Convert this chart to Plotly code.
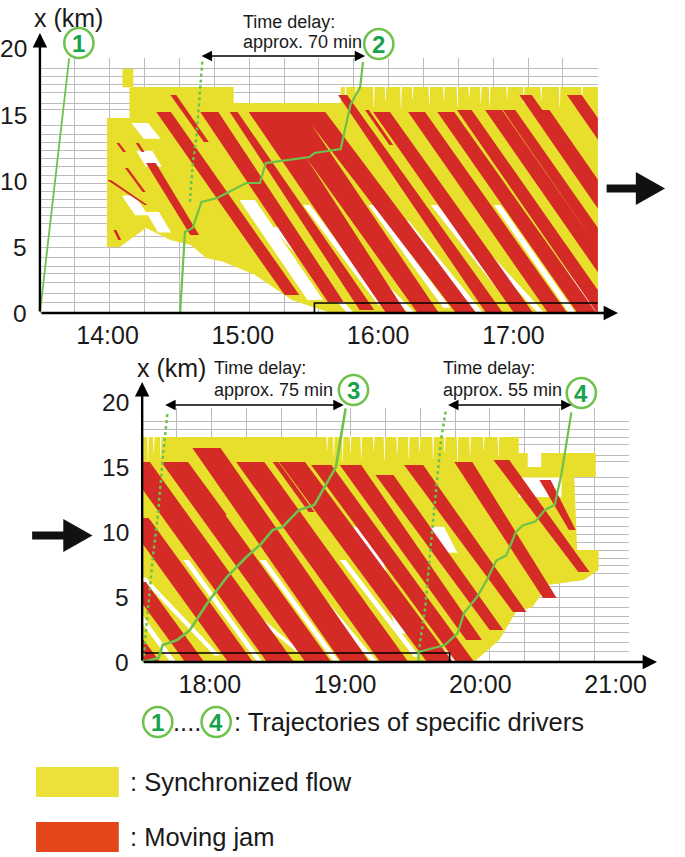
import plotly.graph_objects as go

W, H = 685, 857
YELLOW = "#E8DE2C"
RED = "#D52B27"
LEG_YELLOW = "#ECE13A"
LEG_RED = "#E3461A"
LGREEN = "#6CC24A"
DGREEN = "#17A34A"
GRID = "#BBBBBB"
TXT = "#1a1a1a"
FONT = "Liberation Sans, Arial, sans-serif"

# ---------------- axis data ----------------
top_hour_ticks = [14, 15, 16, 17]
top_hour_labels = ["14:00", "15:00", "16:00", "17:00"]
bot_hour_ticks = [18, 19, 20, 21]
bot_hour_labels = ["18:00", "19:00", "20:00", "21:00"]
km_ticks = [0, 5, 10, 15]
km_top_label = 20
detector_km = [0.8, 1.5, 2.3, 3.0, 3.5, 4.2, 5.0, 5.8, 6.8, 7.4, 8.0, 8.6, 9.2,
               9.8, 10.4, 11.1, 11.7, 12.3, 12.9, 13.5, 14.2, 15.4, 15.9, 16.7,
               17.3, 17.9, 18.5]

# ---------------- top panel (13:30 - 17:37) ----------------
top_sync_t = [14.162, 14.932, 14.932, 15.723, 15.723, 17.65, 17.65, 15.651, 15.363,
              15.09, 14.86, 14.73, 14.615, 14.464, 14.284, 14.09, 13.996, 13.996,
              14.162, 14.162, None,
              14.11, 14.19, 14.19, 14.11, 14.11, None]
top_sync_x = [17.12, 17.12, 15.91, 15.91, 17.12, 17.12, 0, 0, 0.98,
              2.88, 3.86, 4.17, 5.15, 5.53, 6.44, 5.0, 5.0, 14.77,
              14.77, 17.12, None,
              17.1, 17.1, 18.5, 18.5, 17.1, None]
# free-flow holes inside the early synchronized region (slanted patches)
top_hole_t = [14.176, 14.300, 14.392, 14.268, 14.176, None,
              14.212, 14.330, 14.400, 14.282, 14.212, None,
              14.104, 14.200, 14.300, 14.204, 14.104, None,
              14.284, 14.380, 14.470, 14.374, 14.284, None]
top_hole_x = [14.4, 14.4, 13.2, 13.2, 14.4, None,
              12.3, 12.3, 11.1, 11.1, 12.3, None,
              8.9, 8.9, 7.4, 7.4, 8.9, None,
              7.65, 7.65, 6.1, 6.1, 7.65, None]
top_notch_t = [15.759, 15.838, 15.968, 16.054, 16.169, 16.255, 16.378, 16.486, 16.586,
               16.673, 16.759, 16.824, 16.953, 17.076, 17.205, 17.342, 17.507]
top_notch_depth = [1.2, 0.8, 1.5, 1.0, 1.6, 0.9, 1.3, 1.0, 1.5, 0.8, 1.2, 1.4, 0.9,
                   1.3, 1.0, 1.5, 0.9]
top_notch_x = 17.12

top_free_t0 = [15.032, 15.241, 15.471, 15.694, 15.953, 16.198, 16.414, 16.651, 16.881, 17.05]
top_free_x0 = [8.56, 6.5, 8.18, 5.8, 8.18, 7.0, 8.18, 6.2, 8.18, 7.5]
top_free_t1 = [15.536, 15.795, 16.025, 16.248, 16.507, 16.752, 16.968, 17.205, 17.435, 17.608]
top_free_x1 = [0.98, 0, 0.6, 0, 0.4, 0, 1.0, 0, 0, 0]
top_free_w = [6.9, 3.0, 3.0, 3.0, 3.0, 3.0, 3.0, 3.0, 3.0, 3.0]

top_jam_t0 = [14.011, 14.140, 14.076, 14.219, 14.320, 14.054, 14.486, 14.414, 14.752,
              14.932, 15.147, 15.335, 15.522, 15.737, 15.917, 16.025, 16.284, 16.500,
              16.637, 16.853, 16.968, 17.090, 17.212, 17.450]
top_jam_x0 = [10.08, 10.98, 12.88, 12.88, 11.36, 6.29, 16.52, 15.23, 15.23,
              15.23, 15.23, 15.23, 15.23, 16.52, 15.38, 15.23, 15.23, 15.23,
              15.38, 15.38, 15.38, 16.52, 15.38, 16.52]
top_jam_t1 = [14.284, 14.270, 14.126, 14.263, 14.644, 14.090, 14.730, 15.363, 15.687,
              15.917, 16.133, 16.370, 16.649, 16.860, 16.097, 17.075, 17.327, 17.543,
              17.680, 17.896, 18.011, 18.212, 18.255, 18.572]
top_jam_x1 = [8.18, 9.17, 12.20, 12.20, 5.91, 5.53, 12.95, 1.36, 0.83,
              0.23, 0, 0, 0, 0, 12.73, 0, 0, 0,
              0, 0, 0, 0, 0, 0]
top_jam_w0 = [1.7, 1.3, 1.3, 1.3, 4.3, 1.3, 2.6, 6.5, 8.0,
              3.5, 12.5, 13.0, 10.5, 4.0, 1.7, 7.5, 7.5, 7.5,
              6.5, 7.5, 5.5, 5.5, 6.5, 6.5]
top_jam_w1 = [1.3, 1.3, 1.3, 1.3, 3.9, 1.3, 2.2, 6.5, 7.0,
              6.5, 9.0, 9.5, 9.0, 7.5, 1.7, 8.5, 8.5, 8.5,
              7.5, 7.5, 6.5, 6.5, 6.5, 7.5]

traj1_t = [13.5, 13.716]
traj1_x = [0.0, 19.3]
traj2_t = [14.536, 14.572, 14.629, 14.694, 14.809, 15.025, 15.126, 15.169, 15.493,
           15.529, 15.723, 15.795, 15.867, 15.888]
traj2_x = [0.0, 6.14, 6.44, 8.41, 8.71, 9.85, 9.85, 11.36, 11.82,
           12.12, 12.42, 15.76, 17.12, 19.02]
free2_t = [14.608, 14.629, 14.658, 14.680, 14.701]
free2_x = [8.41, 11.21, 13.48, 16.52, 19.17]
top_box_t = [15.529, 15.529, 17.624]
top_box_x = [0.0, 0.76, 0.76]

# ---------------- bottom panel (17:30 - 21:06) ----------------
bot_sync_t = [17.4, 20.284, 20.284, 20.853, 20.853, 20.694, 20.716, 20.874, 20.874,
              20.766, 20.50, 20.385, 20.263, 20.140, 19.953, 17.4, 17.4, None]
bot_sync_x = [17.31, 17.31, 16.08, 16.08, 14.23, 14.23, 8.62, 8.62, 7.08,
              6.31, 5.92, 4.23, 3.85, 1.69, 0.0, 0.0, 17.31, None]
bot_hole_t = [20.284, 20.60, 20.60, 20.284, 20.284, None,
              19.06, 19.20, 19.31, 19.17, 19.06, None,
              19.615, 19.73, 19.83, 19.715, 19.615, None,
              19.33, 19.40, 19.45, 19.38, 19.33, None,
              20.35, 20.45, 20.45, 20.35, 20.35, None]
bot_hole_x = [12.7, 12.7, 14.2, 14.2, 12.7, None,
              10.4, 10.4, 6.8, 6.8, 10.4, None,
              10.4, 10.4, 8.4, 8.4, 10.4, None,
              4.2, 4.2, 2.2, 2.2, 4.2, None,
              15.0, 15.0, 16.08, 16.08, 15.0, None]
bot_notch_t = [17.543, 17.586, 17.637, 18.867, 18.917, 18.982, 19.040, 19.119, 19.212,
               19.291, 19.385, 19.471, 19.550, 19.651, 19.737, 19.831, 19.924, 20.025,
               20.133]
bot_notch_depth = [1.8, 1.2, 1.6, 1.0, 1.5, 1.9, 1.2, 1.6, 1.0, 1.8, 1.3, 1.6, 1.1,
                   1.7, 1.2, 1.9, 1.4, 1.0, 1.5]
bot_notch_x = 17.31

bot_free_t0 = [17.183, 17.507, 17.824, 18.112, 18.392, 18.673, 18.982, 19.255]
bot_free_x0 = [7.85, 6.5, 7.85, 5.5, 7.85, 6.8, 7.85, 6.0]
bot_free_t1 = [17.730, 18.054, 18.371, 18.658, 18.939, 19.219, 19.529, 19.802]
bot_free_x1 = [0, 0.5, 0, 0.8, 0, 0, 0.4, 0]
bot_free_w = [2.6, 2.6, 2.6, 2.6, 2.6, 2.6, 2.6, 2.6]

bot_jam_t0 = [17.457, 17.457, 17.457, 17.457, 17.737, 17.975, 18.299, 18.608, 18.824,
              19.040, 19.291, 19.507, 19.874, 20.155, 20.478, 17.817, 18.486]
bot_jam_x0 = [1.69, 6.15, 11.08, 15.38, 15.38, 16.46, 15.38, 15.38, 15.15,
              15.15, 14.38, 15.15, 15.38, 15.54, 14.0, 15.38, 15.38]
bot_jam_t1 = [17.579, 17.888, 18.227, 18.522, 18.802, 19.076, 19.363, 19.701, 19.888,
              19.953, 20.119, 20.291, 20.514, 20.766, 20.680, 18.104, 18.752]
bot_jam_x1 = [0, 0, 0, 0, 0, 0, 0, 0, 0,
              1.69, 2.46, 3.85, 4.92, 6.92, 10.15, 11.31, 11.54]
bot_jam_w0 = [6.5, 8.5, 11.0, 12.0, 11.5, 12.5, 12.5, 11.5, 9.0,
              9.5, 8.0, 8.5, 8.0, 7.0, 5.0, 2.6, 2.6]
bot_jam_w1 = [6.5, 8.5, 11.0, 12.0, 11.5, 12.5, 12.5, 11.5, 8.0,
              7.0, 6.0, 6.0, 6.0, 5.0, 3.0, 2.6, 2.6]

traj3_t = [17.507, 17.622, 17.651, 17.759, 17.853, 17.982, 18.126, 18.270, 18.371,
           18.464, 18.536, 18.658, 18.773, 18.874, 18.932, 19.004]
traj3_x = [0.0, 0.31, 1.31, 1.69, 2.46, 4.54, 6.54, 8.08, 9.0,
           10.15, 10.38, 11.69, 12.08, 14.0, 15.0, 19.5]
traj4_t = [19.543, 19.543, 19.737, 19.831, 19.881, 19.975, 20.047, 20.119, 20.191,
           20.263, 20.313, 20.406, 20.478, 20.55, 20.60, 20.673]
traj4_x = [0.0, 0.77, 1.3, 2.2, 3.8, 5.0, 6.3, 7.8, 8.2,
           10.0, 10.5, 10.8, 11.7, 12.1, 14.5, 19.2]
free3_t = [17.507, 17.543, 17.579, 17.615, 17.651, 17.687]
free3_x = [0.0, 4.23, 8.08, 11.15, 15.54, 19.15]
free4_t = [19.543, 19.593, 19.637, 19.673, 19.709, 19.745]
free4_x = [0.69, 4.23, 9.38, 13.23, 17.08, 19.38]
bot_box_t = [17.5, 19.773, 19.773]
bot_box_x = [0.69, 0.69, 0.0]

driver_ids = ["1", "2", "3", "4"]
delay_texts = [("Time delay:", "approx. 70 min"), ("Time delay:", "approx. 75 min"),
               ("Time delay:", "approx. 55 min")]
legend_texts = [": Trajectories of specific drivers", ": Synchronized flow", ": Moving jam"]


# ---------------- helpers ----------------
def bands(t0, x0, t1, x1, w0, w1):
    ts, xs = [], []
    for a, b, c, d, e, f in zip(t0, x0, t1, x1, w0, w1):
        h0, h1 = e / 120.0, f / 120.0
        ts += [a - h0, a + h0, c + h1, c - h1, a - h0, None]
        xs += [b, b, d, d, b, None]
    return ts, xs


def notches(ts_c, depths, top, width_min=0.7):
    ts, xs = [], []
    h = width_min / 120.0
    for t, d in zip(ts_c, depths):
        ts += [t - h, t + h, t + h * 0.3, t - h * 0.3, t - h, None]
        xs += [top + 0.05, top + 0.05, top - d, top - d, top + 0.05, None]
    return ts, xs


def area(t, x, color, xa, ya):
    return go.Scatter(x=t, y=x, mode="lines", fill="toself", fillcolor=color,
                      line=dict(width=0, color=color), hoverinfo="skip",
                      showlegend=False, xaxis=xa, yaxis=ya)


def line(t, x, xa, ya, width=2.0, dash="solid", color=LGREEN):
    return go.Scatter(x=t, y=x, mode="lines", line=dict(color=color, width=width, dash=dash),
                      hoverinfo="skip", showlegend=False, xaxis=xa, yaxis=ya)


def px(X):
    return X / W


def py(Y):
    return 1 - Y / H


fig = go.Figure()

# top panel
fig.add_trace(area(top_sync_t, top_sync_x, YELLOW, "x", "y"))
fig.add_trace(area(top_hole_t, top_hole_x, "white", "x", "y"))
nt, nx = notches(top_notch_t, top_notch_depth, top_notch_x)
fig.add_trace(area(nt, nx, "white", "x", "y"))
ft, fx = bands(top_free_t0, top_free_x0, top_free_t1, top_free_x1, top_free_w, top_free_w)
fig.add_trace(area(ft, fx, "white", "x", "y"))
jt, jx = bands(top_jam_t0, top_jam_x0, top_jam_t1, top_jam_x1, top_jam_w0, top_jam_w1)
fig.add_trace(area(jt, jx, RED, "x", "y"))
fig.add_trace(line(top_box_t, top_box_x, "x", "y", width=1.6, color="black"))
fig.add_trace(line(traj1_t, traj1_x, "x", "y", width=1.8))
fig.add_trace(line(traj2_t, traj2_x, "x", "y", width=2.2))
fig.add_trace(line(free2_t, free2_x, "x", "y", width=2.5, dash="dot"))

# bottom panel
fig.add_trace(area(bot_sync_t, bot_sync_x, YELLOW, "x2", "y2"))
fig.add_trace(area(bot_hole_t, bot_hole_x, "white", "x2", "y2"))
nt, nx = notches(bot_notch_t, bot_notch_depth, bot_notch_x)
fig.add_trace(area(nt, nx, "white", "x2", "y2"))
ft, fx = bands(bot_free_t0, bot_free_x0, bot_free_t1, bot_free_x1, bot_free_w, bot_free_w)
fig.add_trace(area(ft, fx, "white", "x2", "y2"))
jt, jx = bands(bot_jam_t0, bot_jam_x0, bot_jam_t1, bot_jam_x1, bot_jam_w0, bot_jam_w1)
fig.add_trace(area(jt, jx, RED, "x2", "y2"))
fig.add_trace(line(bot_box_t, bot_box_x, "x2", "y2", width=1.6, color="black"))
fig.add_trace(line(traj3_t, traj3_x, "x2", "y2", width=2.6))
fig.add_trace(line(traj4_t, traj4_x, "x2", "y2", width=2.2))
fig.add_trace(line(free3_t, free3_x, "x2", "y2", width=2.5, dash="dot"))
fig.add_trace(line(free4_t, free4_x, "x2", "y2", width=2.5, dash="dot"))

tickfont = dict(size=25, family=FONT, color=TXT)
yfont = dict(size=24.5, family=FONT, color=TXT)


def xaxis(dom, rng, ticks, texts, anchor):
    return dict(domain=dom, range=rng, anchor=anchor, tickmode="array", tickvals=ticks,
                ticktext=texts, showgrid=False, zeroline=False, showline=False, ticks="",
                tickfont=tickfont, ticklabelstandoff=5, fixedrange=True,
                minor=dict(tick0=rng[0], dtick=(rng[1] - rng[0]) / round((rng[1] - rng[0]) / 0.2573),
                           showgrid=True, gridcolor=GRID, gridwidth=1, ticks=""))


def yaxis(dom, rng, anchor):
    return dict(domain=dom, range=rng, anchor=anchor, showticklabels=False, showgrid=False,
                zeroline=False, showline=False, ticks="", tickmode="array", tickvals=km_ticks,
                fixedrange=True,
                minor=dict(tickmode="array", tickvals=detector_km + [rng[1]], showgrid=True,
                           gridcolor=GRID, gridwidth=1, ticks=""))


annotations = []
for v in km_ticks:
    annotations.append(dict(x=13.5, y=v, xref="x", yref="y", text=str(v), showarrow=False,
                            xanchor="right", xshift=-11, font=yfont))
    annotations.append(dict(x=17.5, y=v, xref="x2", yref="y2", text=str(v), showarrow=False,
                            xanchor="right", xshift=-11, font=yfont))
for X, Y in [(30, 49), (135, 402)]:
    annotations.append(dict(x=px(X), y=py(Y), xref="paper", yref="paper", text=str(km_top_label),
                            showarrow=False, xanchor="right", yanchor="middle", font=yfont))


def arrow(x0, y0, x1, y1, xr, yr, width=2.4, size=1.2):
    return dict(x=x1, y=y1, ax=x0, ay=y0, xref=xr, yref=yr, axref=xr, ayref=yr, text="",
                showarrow=True, arrowhead=2, arrowsize=size, arrowwidth=width, arrowcolor="black",
                standoff=0, startstandoff=0)


annotations.append(arrow(13.5, 0, 17.773, 0, "x", "y"))
annotations.append(arrow(13.5, 0, 13.5, 21.21, "x", "y"))
annotations.append(arrow(17.5, 0, 21.306, 0, "x2", "y2"))
annotations.append(arrow(17.5, 0, 17.5, 21.54, "x2", "y2"))

for X1, X2, Y in [(210, 375, 56), (173, 353, 405), (462, 587, 405)]:
    annotations.append(dict(x=px(X2), y=py(Y), xref="paper", yref="paper", ax=X1 - X2, ay=0,
                            axref="pixel", ayref="pixel", text="", showarrow=True,
                            arrowhead=2, arrowsize=1.3, arrowwidth=1.6, arrowcolor="black",
                            arrowside="end+start", standoff=0, startstandoff=0))

small = dict(size=18, family=FONT, color=TXT)
for (X, Y1, Y2), (l1, l2) in zip([(247, 22, 42), (218, 368, 390), (453, 368, 390)], delay_texts):
    for Y, s in [(Y1, l1), (Y2, l2)]:
        annotations.append(dict(x=px(X), y=py(Y), xref="paper", yref="paper", text=s,
                                showarrow=False, xanchor="left", yanchor="middle", font=small))
for X, Y in [(70, 18), (176, 368)]:
    annotations.append(dict(x=px(X), y=py(Y), xref="paper", yref="paper", text="x (km)",
                            showarrow=False, xanchor="center", yanchor="middle", font=tickfont))

digitfont = dict(size=24, family=FONT, color=DGREEN, weight="bold")
circles = [(81, 43, driver_ids[0]), (389, 44, driver_ids[1]), (363, 390, driver_ids[2]),
           (597, 393, driver_ids[3]), (162, 722, driver_ids[0]), (222, 722, driver_ids[3])]
shapes = []
for X, Y, d in circles:
    shapes.append(dict(type="circle", xref="paper", yref="paper", x0=px(X - 15), x1=px(X + 15),
                       y0=py(Y + 15), y1=py(Y - 15), line=dict(color=LGREEN, width=2.5),
                       fillcolor="white"))
    annotations.append(dict(x=px(X), y=py(Y), xref="paper", yref="paper", text=d, showarrow=False,
                            xanchor="center", yanchor="middle", font=digitfont))

legfont = dict(size=25.5, family=FONT, color=TXT)
annotations.append(dict(x=px(192), y=py(722), xref="paper", yref="paper", text="....",
                        showarrow=False, xanchor="center", yanchor="middle", font=legfont))
for X, Y, s in [(238, 722, legend_texts[0]), (131, 782, legend_texts[1]), (131, 837, legend_texts[2])]:
    annotations.append(dict(x=px(X), y=py(Y), xref="paper", yref="paper", xanchor="left",
                            yanchor="middle", text=s, showarrow=False, font=legfont))


def poly(points):
    return "M " + " L ".join(f"{px(X):.5f},{py(Y):.5f}" for X, Y in points) + " Z"


shapes += [
    dict(type="path", xref="paper", yref="paper", fillcolor="#111111", line=dict(width=0),
         path=poly([(623, 184.5), (653, 184.5), (653, 172), (683, 188.5), (653, 205),
                    (653, 192.5), (623, 192.5)])),
    dict(type="path", xref="paper", yref="paper", fillcolor="#111111", line=dict(width=0),
         path=poly([(33, 531.5), (65, 531.5), (65, 519), (95, 535.5), (65, 552),
                    (65, 539.5), (33, 539.5)])),
    dict(type="rect", xref="paper", yref="paper", x0=px(37), x1=px(122), y0=py(767), y1=py(797),
         fillcolor=LEG_YELLOW, line=dict(width=0)),
    dict(type="rect", xref="paper", yref="paper", x0=px(37), x1=px(122), y0=py(822), y1=py(852),
         fillcolor=LEG_RED, line=dict(width=0)),
]

fig.update_layout(
    width=W, height=H, margin=dict(l=0, r=0, t=0, b=0),
    paper_bgcolor="white", plot_bgcolor="white", showlegend=False,
    xaxis=xaxis([px(41), px(614)], [13.5, 17.624], top_hour_ticks, top_hour_labels, "y"),
    yaxis=yaxis([py(313), py(58)], [0, 19.32], "x"),
    xaxis2=xaxis([px(146), px(646)], [17.5, 21.099], bot_hour_ticks, bot_hour_labels, "y2"),
    yaxis2=yaxis([py(662), py(408)], [0, 19.54], "x2"),
    annotations=annotations, shapes=shapes,
)

fig.write_html("out.html", config={"displayModeBar": False},
               post_script="document.body.style.margin='0px';")
